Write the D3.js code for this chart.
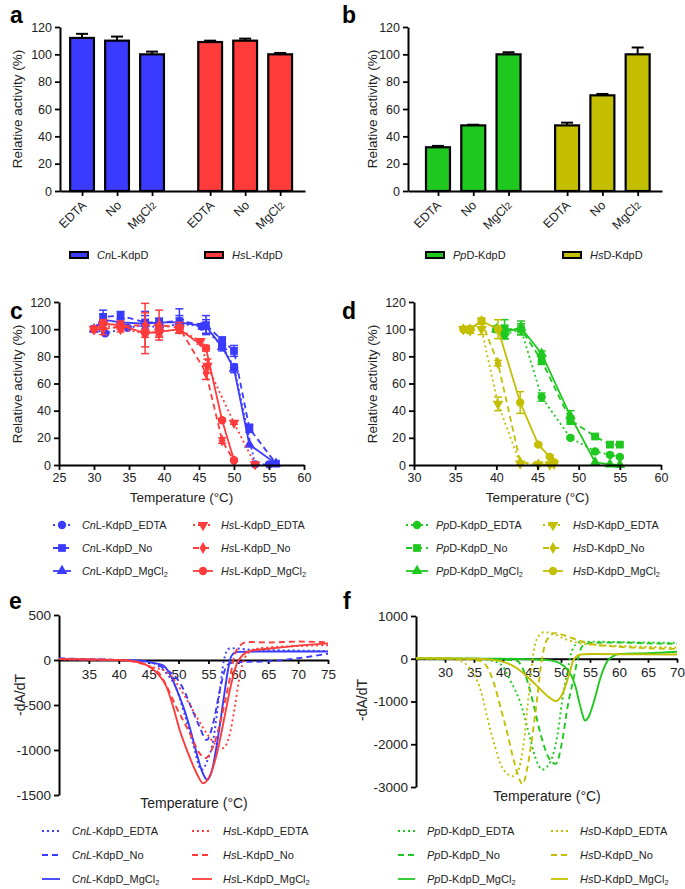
<!DOCTYPE html>
<html><head><meta charset="utf-8">
<script src="https://cdn.jsdelivr.net/npm/d3@7"></script>
<style>body{margin:0;background:#fff}svg{display:block}</style>
</head><body><svg id="chart" width="685" height="889"></svg>
<script>
// ---------------- DATA ----------------
const conditions = ["EDTA", "No", "MgCl2"];
const barTicks = [0, 20, 40, 60, 80, 100, 120];
// panel a
const aNames = ["CnL-KdpD", "HsL-KdpD"];
const aCnVals = [112, 110, 100], aCnErr = [3, 3, 2];
const aHsVals = [109, 110, 100], aHsErr = [1, 1.5, 1];
// panel b
const bNames = ["PpD-KdpD", "HsD-KdpD"];
const bPpVals = [32, 48, 100], bPpErr = [1, 0.5, 1.5];
const bHsVals = [48, 70, 100], bHsErr = [2, 1, 5];

// panel c (temperature, activity, error)
const cTicksX = [25, 30, 35, 40, 45, 50, 55, 60];
const cCnEDTA_T = [30, 31.6, 34.8, 37.3, 39.3, 42.3, 45.4, 48.3, 50, 53, 55];
const cCnEDTA_V = [100, 97, 101, 103, 101, 104, 102, 88, 72, 0.5, 0.5];
const cCnEDTA_E = [0, 1, 1, 3, 4, 3, 2, 2, 2, 0, 0];
const cCnNo_T = [30, 31.3, 33.8, 37.3, 39.3, 42.2, 46, 48.3, 50, 52.2, 56];
const cCnNo_V = [100, 109, 110, 105, 105, 106, 103, 92, 84, 27, 1];
const cCnNo_E = [0, 5, 3, 8, 3, 9, 7, 2, 4, 3, 0];
const cCnMg_T = [30, 31.3, 33.8, 37.3, 39.3, 42.2, 46, 48.3, 50, 52.2, 56];
const cCnMg_V = [100, 107, 105, 104, 105, 105, 102, 87, 71, 15, 1];
const cCnMg_E = [0, 4, 3, 6, 3, 5, 5, 3, 3, 0, 0];
const cHsEDTA_T = [30, 31.3, 33.8, 37.3, 39.3, 42.2, 45.2, 46.2, 50, 53];
const cHsEDTA_V = [100, 103, 100, 97, 98, 100, 91, 73, 31, 0.5];
const cHsEDTA_E = [0, 3, 2, 3, 4, 3, 2, 5, 1, 0];
const cHsNo_T = [30, 31.3, 33.8, 37.3, 39.3, 42.2, 46, 48.3, 50];
const cHsNo_V = [100, 100, 102, 103, 103, 101, 68, 18, 3];
const cHsNo_E = [0, 4, 2, 16, 11, 4, 5, 2, 0];
const cHsMg_T = [30, 31.3, 33.8, 37.3, 39.3, 42.2, 46, 48.3, 50];
const cHsMg_V = [100, 104, 103, 97, 98, 100, 86, 33, 3.5];
const cHsMg_E = [0, 3, 3, 15, 3, 3, 2, 1, 1];

// panel d
const dTicksX = [30, 35, 40, 45, 50, 55, 60];
const dPp_T = [40, 41, 43, 45.5, 49, 52, 53.8, 55];
const dPpEDTA_V = [100, 96, 100, 50, 20, 10, 7.5, 6];
const dPpEDTA_E = [0, 3, 4, 3, 1, 1, 1, 1];
const dPpNo_V = [100, 100, 100, 77, 33, 21, 15, 15];
const dPpNo_E = [0, 7, 4, 3, 3, 1, 1, 1];
const dPpMg_V = [100, 98, 101, 82, 36, 2, 0.5, 0];
const dPpMg_E = [0, 5, 5, 2, 4, 0, 0, 0];
const dHs_T = [36, 36.8, 38.2, 40.2, 42.9, 45.1, 46.5, 47];
const dHsEDTA_V = [100, 99, 100, 45, 1, 0.5, 0.5, 1];
const dHsEDTA_E = [0, 2, 4, 5, 1, 0, 0, 0];
const dHsNo_V = [100, 100, 106, 75, 2, 0.5, 0.5, 1];
const dHsNo_E = [0, 2, 2, 2, 0, 0, 0, 0];
const dHsMg_V = [100, 100, 106, 100, 46, 15, 6, 2];
const dHsMg_E = [0, 2, 2, 7, 8, 1, 1, 1];

// panel e (-dA/dT curves: [temperature, value])
const eTicksX = [35, 40, 45, 50, 55, 60, 65, 70, 75];
const eTicksY = [500, 0, -500, -1000, -1500];
const eCnEDTA = [[30,15],[35,5],[40,0],[44,-10],[46,-40],[48,-150],[49.5,-300],[51,-600],[52.5,-950],[53.8,-1220],[54.8,-1120],[55.8,-890],[56.9,-340],[57.6,0],[58.4,125],[59,130],[62,115],[70,105],[75,100]];
const eCnNo = [[30,20],[35,8],[40,0],[44,-15],[46,-40],[48,-110],[49.6,-195],[51,-350],[51.9,-490],[53.5,-740],[54.7,-890],[55.8,-700],[56.9,-340],[57.8,-100],[58.5,-40],[60,-25],[65,-15],[70,20],[75,70]];
const eCnMg = [[30,10],[35,5],[40,0],[44,-10],[46,-35],[47.4,-60],[48.5,-150],[50,-380],[51,-560],[52,-780],[53,-1030],[54,-1250],[54.8,-1330],[55.5,-1250],[56.5,-900],[57.5,-450],[58.3,-100],[58.8,40],[59.5,85],[60,90],[65,95],[75,95]];
const eHsEDTA = [[30,10],[35,5],[40,0],[43,-20],[45.7,-80],[48,-130],[50.8,-375],[53,-630],[54.7,-815],[56.3,-945],[57.4,-980],[58.6,-815],[59.4,-525],[60.2,-195],[61.1,25],[62.5,115],[65,140],[70,155],[75,165]];
const eHsNo = [[30,10],[35,5],[40,0],[43,-25],[45,-70],[46.9,-160],[48,-290],[49.6,-520],[51.9,-815],[53.5,-1035],[54.5,-1090],[55.8,-960],[57.2,-630],[58.6,-195],[59.4,60],[60.2,155],[61.5,200],[65,195],[70,205],[75,195]];
const eHsMg = [[30,10],[35,5],[40,0],[43,-20],[45,-70],[46.3,-140],[48,-300],[49.1,-520],[50.2,-780],[51.6,-1035],[53,-1255],[54.1,-1370],[55.2,-1290],[56.3,-1070],[57.7,-630],[58.8,-270],[59.7,-50],[60.8,60],[62,100],[65,125],[70,160],[75,185]];

// panel f
const fTicksX = [30, 35, 40, 45, 50, 55, 60, 65, 70];
const fTicksY = [1000, 0, -1000, -2000, -3000];
const fPpEDTA = [[25,10],[30,5],[35,0],[37.5,-30],[39.6,-130],[41.3,-520],[43.1,-1070],[44.5,-1770],[45.6,-2320],[46.8,-2590],[48.2,-2400],[49.4,-1770],[50.2,-990],[51.1,-290],[51.7,100],[52.5,330],[53.5,400],[55,400],[60,390],[65,380],[70,370]];
const fPpNo = [[25,10],[30,5],[35,0],[40,-20],[42.5,-55],[43.3,-200],[44.2,-520],[45.4,-1150],[46.5,-1770],[47.9,-2320],[49.1,-2460],[50.2,-1930],[51.1,-1150],[52.2,-445],[52.9,0],[53.7,300],[55,370],[60,380],[65,360],[70,350]];
const fPpMg = [[25,10],[30,5],[40,0],[45,-15],[47,-25],[49,-60],[50.5,-170],[51.7,-370],[52.5,-650],[53.1,-990],[53.6,-1250],[54.1,-1445],[54.8,-1350],[55.7,-990],[56.8,-445],[58,-55],[59,60],[60,110],[65,130],[70,165]];
const fHsEDTA = [[25,10],[30,5],[32.8,-55],[34,-180],[35,-370],[36.2,-760],[37.3,-1380],[38.5,-2000],[39.6,-2470],[40.8,-2700],[41.6,-2750],[42.8,-2550],[43.6,-1930],[44.2,-1150],[44.8,-370],[45.4,260],[46.2,540],[47,620],[48.5,600],[50,500],[55,330],[60,300],[70,260]];
const fHsNo = [[25,10],[30,5],[34,-10],[36.2,-55],[37.5,-250],[38.5,-600],[39.6,-1150],[40.8,-1770],[41.9,-2400],[43.4,-2930],[44.2,-2550],[45.1,-1770],[45.9,-910],[46.5,-210],[47.1,260],[48,520],[49,600],[50,570],[52,480],[55,350],[60,280],[70,230]];
const fHsMg = [[25,10],[30,5],[35,0],[38,-20],[39.6,-55],[41.5,-150],[43.1,-290],[45,-520],[45.9,-640],[47.7,-875],[49.1,-990],[50.2,-835],[51.4,-367],[52.2,-15],[53.4,100],[55,110],[60,105],[70,100]];

// ---------------- STYLE ----------------
const FONT = '"Liberation Sans", Arial, Helvetica, sans-serif';
const BLUE = "#3b3bff", RED = "#ff3b3b", GREEN = "#1fc81f", OLIVE = "#c3bf00";
const DOT = "2,3", DASH = "6,4";
const plain = d => String(d);
const svg = d3.select("#chart").attr("font-family", FONT);
svg.append("rect").attr("width", 685).attr("height", 889).attr("fill", "#fff");

function panelLabel(x, y, t) {
  svg.append("text").attr("x", x).attr("y", y).attr("font-size", 23).attr("font-weight", "bold").text(t);
}
function yTitle(x, y, t, fs) {
  svg.append("text").attr("transform", `translate(${x},${y}) rotate(-90)`).attr("text-anchor", "middle")
    .attr("font-size", fs).attr("fill", "#222").text(t);
}
function xTitle(x, y, t, fs) {
  svg.append("text").attr("x", x).attr("y", y).attr("text-anchor", "middle").attr("font-size", fs).attr("fill", "#222").text(t);
}
function styleAxis(g, fs) {
  g.attr("font-family", FONT);
  g.select(".domain").attr("stroke-width", 2).attr("stroke", "#000");
  g.selectAll(".tick line").attr("stroke-width", 1.8).attr("stroke", "#000");
  g.selectAll(".tick text").attr("font-size", fs).attr("fill", "#222");
}
function richText(sel, x, y, name, italLen, fs) {
  const t = sel.append("text").attr("x", x).attr("y", y).attr("font-size", fs).attr("fill", "#222");
  t.append("tspan").attr("font-style", "italic").text(name.slice(0, italLen));
  const rest = name.slice(italLen);
  if (rest.endsWith("MgCl2")) {
    t.append("tspan").text(rest.slice(0, -1));
    t.append("tspan").attr("font-size", fs * 0.68).attr("dy", 2).text("2");
  } else t.append("tspan").text(rest);
}

// ---------------- BAR PANELS ----------------
const barSlots = [0, 1, 2, 3.66, 4.66, 5.66];
function barPanel(cfg) {
  const x = d3.scaleLinear().domain(cfg.dom).range([cfg.x0, cfg.x1]);
  const y = d3.scaleLinear().domain([0, 120]).range([191, 27]);
  const g = svg.append("g");
  const bw = x(0.68) - x(0);
  const data = cfg.v1.map((v, i) => ({ s: barSlots[i], v, e: cfg.e1[i], c: cfg.c1, lab: conditions[i] }))
    .concat(cfg.v2.map((v, i) => ({ s: barSlots[i + 3], v, e: cfg.e2[i], c: cfg.c2, lab: conditions[i] })));
  g.selectAll("rect.bar").data(data).join("rect")
    .attr("x", d => x(d.s) - bw / 2).attr("width", bw)
    .attr("y", d => y(d.v)).attr("height", d => y(0) - y(d.v))
    .attr("fill", d => d.c).attr("stroke", "#000").attr("stroke-width", 2.2);
  g.selectAll("line.err").data(data).join("line")
    .attr("x1", d => x(d.s)).attr("x2", d => x(d.s)).attr("y1", d => y(d.v)).attr("y2", d => y(d.v + d.e))
    .attr("stroke", "#000").attr("stroke-width", 2);
  g.selectAll("line.cap").data(data).join("line")
    .attr("x1", d => x(d.s) - 6).attr("x2", d => x(d.s) + 6).attr("y1", d => y(d.v + d.e)).attr("y2", d => y(d.v + d.e))
    .attr("stroke", "#000").attr("stroke-width", 2);
  const ya = svg.append("g").attr("transform", `translate(${cfg.x0},0)`)
    .call(d3.axisLeft(y).tickValues(barTicks).tickFormat(plain).tickSize(5).tickSizeOuter(0));
  styleAxis(ya, 12.5);
  const xa = svg.append("g").attr("transform", `translate(0,${y(0)})`)
    .call(d3.axisBottom(x).tickValues(barSlots).tickFormat("").tickSize(5).tickSizeOuter(0));
  styleAxis(xa, 12.5);
  data.forEach(d => {
    const t = svg.append("text").attr("transform", `translate(${x(d.s) + cfg.lx},206) rotate(-45)`)
      .attr("text-anchor", "end").attr("font-size", 12.5).attr("fill", "#222");
    if (d.lab === "MgCl2") { t.append("tspan").text("MgCl"); t.append("tspan").attr("font-size", 9.5).text("2"); }
    else t.text(d.lab);
  });
  // legend
  [[cfg.c1, cfg.names[0], cfg.leg[0]], [cfg.c2, cfg.names[1], cfg.leg[1]]].forEach(([c, n, lx]) => {
    svg.append("rect").attr("x", lx).attr("y", 252).attr("width", 18).attr("height", 6)
      .attr("fill", c).attr("stroke", "#000").attr("stroke-width", 2);
    richText(svg, lx + 27, 259, n, 2, 11);
  });
  yTitle(cfg.tx, 109, "Relative activity (%)", 13.5);
}
barPanel({ dom: [-0.63, 6.37], x0: 60, x1: 305, v1: aCnVals, e1: aCnErr, v2: aHsVals, e2: aHsErr,
  c1: BLUE, c2: RED, names: aNames, leg: [70, 205], lx: 5, tx: 22 });
barPanel({ dom: [-0.85, 6.35], x0: 408, x1: 662, v1: bPpVals, e1: bPpErr, v2: bHsVals, e2: bHsErr,
  c1: GREEN, c2: OLIVE, names: bNames, leg: [426, 563], lx: 4, tx: 377 });
panelLabel(10, 23, "a");
panelLabel(342, 23, "b");

// ---------------- LINE + MARKER PANELS ----------------
function markerPath(type) {
  const m = { circle: [d3.symbolCircle, 55], square: [d3.symbolSquare, 60], tri: [d3.symbolTriangle, 50],
    down: [d3.symbolTriangle, 50], diamond: [d3.symbolDiamond, 42] }[type];
  return d3.symbol(m[0], m[1])();
}
function linePanel(cfg) {
  const x = d3.scaleLinear().domain(cfg.xdom).range([cfg.x0, cfg.x1]);
  const y = d3.scaleLinear().domain([0, 120]).range([465, 302]);
  const line = d3.line().x(d => x(d[0])).y(d => y(d[1]));
  cfg.series.forEach(s => {
    const pts = s.T.map((t, i) => [t, s.V[i], s.E[i]]);
    const g = svg.append("g");
    g.append("path").datum(pts).attr("d", line).attr("fill", "none").attr("stroke", s.c)
      .attr("stroke-width", 1.8).attr("stroke-dasharray", s.dash);
    pts.filter(p => p[2] > 0).forEach(p => {
      g.append("line").attr("x1", x(p[0])).attr("x2", x(p[0])).attr("y1", y(p[1] - p[2])).attr("y2", y(p[1] + p[2]))
        .attr("stroke", s.c).attr("stroke-width", 1.5);
      [p[1] - p[2], p[1] + p[2]].forEach(v => g.append("line").attr("x1", x(p[0]) - 4).attr("x2", x(p[0]) + 4)
        .attr("y1", y(v)).attr("y2", y(v)).attr("stroke", s.c).attr("stroke-width", 1.5));
    });
    g.selectAll("path.m").data(pts).join("path")
      .attr("d", markerPath(s.m))
      .attr("transform", d => `translate(${x(d[0])},${y(d[1])})${s.m === "down" ? " rotate(180)" : ""}`)
      .attr("fill", s.c);
  });
  const ya = svg.append("g").attr("transform", `translate(${cfg.x0},0)`)
    .call(d3.axisLeft(y).tickValues(barTicks).tickFormat(plain).tickSize(5).tickSizeOuter(0));
  styleAxis(ya, 12.5);
  const xa = svg.append("g").attr("transform", `translate(0,${y(0)})`)
    .call(d3.axisBottom(x).tickValues(cfg.ticks).tickFormat(plain).tickSize(5).tickPadding(3).tickSizeOuter(0));
  styleAxis(xa, 12.5);
  yTitle(cfg.tx, 384, "Relative activity (%)", 13.5);
  xTitle((cfg.x0 + cfg.x1) / 2, 502, "Temperature (°C)", 13.5);
  // legend
  cfg.series.forEach((s, i) => {
    const col = i < 3 ? 0 : 1, row = i % 3;
    const ly = 525 + row * 23, [l0, l1, tx] = cfg.leg[col];
    svg.append("line").attr("x1", l0).attr("x2", l1).attr("y1", ly).attr("y2", ly)
      .attr("stroke", s.c).attr("stroke-width", 1.8).attr("stroke-dasharray", s.dash);
    svg.append("path").attr("d", markerPath(s.m))
      .attr("transform", `translate(${(l0 + l1) / 2},${ly})${s.m === "down" ? " rotate(180)" : ""}`).attr("fill", s.c);
    richText(svg, tx, ly + 4, s.name, 2, 10.8);
  });
}
linePanel({ xdom: [25, 60], x0: 59, x1: 304, ticks: cTicksX, tx: 22,
  leg: [[53, 71, 82], [193, 213, 221]],
  series: [
    { name: "CnL-KdpD_EDTA", T: cCnEDTA_T, V: cCnEDTA_V, E: cCnEDTA_E, c: BLUE, dash: DOT, m: "circle" },
    { name: "CnL-KdpD_No", T: cCnNo_T, V: cCnNo_V, E: cCnNo_E, c: BLUE, dash: DASH, m: "square" },
    { name: "CnL-KdpD_MgCl2", T: cCnMg_T, V: cCnMg_V, E: cCnMg_E, c: BLUE, dash: null, m: "tri" },
    { name: "HsL-KdpD_EDTA", T: cHsEDTA_T, V: cHsEDTA_V, E: cHsEDTA_E, c: RED, dash: DOT, m: "down" },
    { name: "HsL-KdpD_No", T: cHsNo_T, V: cHsNo_V, E: cHsNo_E, c: RED, dash: DASH, m: "diamond" },
    { name: "HsL-KdpD_MgCl2", T: cHsMg_T, V: cHsMg_V, E: cHsMg_E, c: RED, dash: null, m: "circle" }
  ] });
linePanel({ xdom: [30, 60], x0: 414, x1: 661, ticks: dTicksX, tx: 377,
  leg: [[406, 428, 436], [543, 563, 573]],
  series: [
    { name: "PpD-KdpD_EDTA", T: dPp_T, V: dPpEDTA_V, E: dPpEDTA_E, c: GREEN, dash: DOT, m: "circle" },
    { name: "PpD-KdpD_No", T: dPp_T, V: dPpNo_V, E: dPpNo_E, c: GREEN, dash: DASH, m: "square" },
    { name: "PpD-KdpD_MgCl2", T: dPp_T, V: dPpMg_V, E: dPpMg_E, c: GREEN, dash: null, m: "tri" },
    { name: "HsD-KdpD_EDTA", T: dHs_T, V: dHsEDTA_V, E: dHsEDTA_E, c: OLIVE, dash: DOT, m: "down" },
    { name: "HsD-KdpD_No", T: dHs_T, V: dHsNo_V, E: dHsNo_E, c: OLIVE, dash: DASH, m: "diamond" },
    { name: "HsD-KdpD_MgCl2", T: dHs_T, V: dHsMg_V, E: dHsMg_E, c: OLIVE, dash: null, m: "circle" }
  ] });
panelLabel(10, 319, "c");
panelLabel(342, 319, "d");

// ---------------- DERIVATIVE PANELS ----------------
function curvePanel(cfg) {
  const x = d3.scaleLinear().domain(cfg.xdom).range([cfg.x0, cfg.x1]);
  const y = d3.scaleLinear().domain(cfg.ydom).range([cfg.yb, cfg.yt]);
  const line = d3.line().x(d => x(d[0])).y(d => y(d[1])).curve(d3.curveMonotoneX);
  const ya = svg.append("g").attr("transform", `translate(${cfg.x0},0)`)
    .call(d3.axisLeft(y).tickValues(cfg.yticks).tickFormat(plain).tickSize(5).tickSizeOuter(0));
  styleAxis(ya, 13.5);
  const xa = svg.append("g").attr("transform", `translate(0,${y(0)})`)
    .call(d3.axisBottom(x).tickValues(cfg.xticks).tickFormat(plain).tickSize(4).tickPadding(5).tickSizeOuter(0));
  styleAxis(xa, 13.5);
  cfg.series.forEach(s => {
    svg.append("path").datum(s.d).attr("d", line).attr("fill", "none").attr("stroke", s.c)
      .attr("stroke-width", 1.9).attr("stroke-dasharray", s.dash);
  });
  yTitle(cfg.tx, cfg.ty, "-dA/dT", 14);
  xTitle(cfg.ttx, cfg.tty, "Temperature (°C)", 14);
  cfg.series.forEach((s, i) => {
    const col = i < 3 ? 0 : 1, row = i % 3;
    const ly = 831 + row * 24, [l0, l1, tx] = cfg.leg[col];
    svg.append("line").attr("x1", l0).attr("x2", l1).attr("y1", ly).attr("y2", ly)
      .attr("stroke", s.c).attr("stroke-width", 1.8).attr("stroke-dasharray", s.dash);
    richText(svg, tx, ly + 4, s.name, s.ital, 11);
  });
}
curvePanel({ xdom: [30, 75], x0: 59, x1: 328, ydom: [-1500, 500], yb: 795, yt: 615,
  xticks: eTicksX, yticks: eTicksY, tx: 25, ty: 695, ttx: 194, tty: 808,
  leg: [[42, 60, 72], [192, 212, 223]],
  series: [
    { name: "CnL-KdpD_EDTA", ital: 3, d: eCnEDTA, c: BLUE, dash: DOT },
    { name: "CnL-KdpD_No", ital: 3, d: eCnNo, c: BLUE, dash: DASH },
    { name: "CnL-KdpD_MgCl2", ital: 3, d: eCnMg, c: BLUE, dash: null },
    { name: "HsL-KdpD_EDTA", ital: 2, d: eHsEDTA, c: RED, dash: DOT },
    { name: "HsL-KdpD_No", ital: 2, d: eHsNo, c: RED, dash: DASH },
    { name: "HsL-KdpD_MgCl2", ital: 2, d: eHsMg, c: RED, dash: null }
  ] });
curvePanel({ xdom: [25, 70], x0: 416, x1: 677, ydom: [-3000, 1000], yb: 787, yt: 616,
  xticks: fTicksX, yticks: fTicksY, tx: 367, ty: 700, ttx: 547, tty: 801,
  leg: [[398, 415, 427], [551, 568, 580]],
  series: [
    { name: "PpD-KdpD_EDTA", ital: 2, d: fPpEDTA, c: GREEN, dash: DOT },
    { name: "PpD-KdpD_No", ital: 2, d: fPpNo, c: GREEN, dash: DASH },
    { name: "PpD-KdpD_MgCl2", ital: 2, d: fPpMg, c: GREEN, dash: null },
    { name: "HsD-KdpD_EDTA", ital: 2, d: fHsEDTA, c: OLIVE, dash: DOT },
    { name: "HsD-KdpD_No", ital: 2, d: fHsNo, c: OLIVE, dash: DASH },
    { name: "HsD-KdpD_MgCl2", ital: 2, d: fHsMg, c: OLIVE, dash: null }
  ] });
panelLabel(9, 609, "e");
panelLabel(343, 609, "f");
</script></body></html>
